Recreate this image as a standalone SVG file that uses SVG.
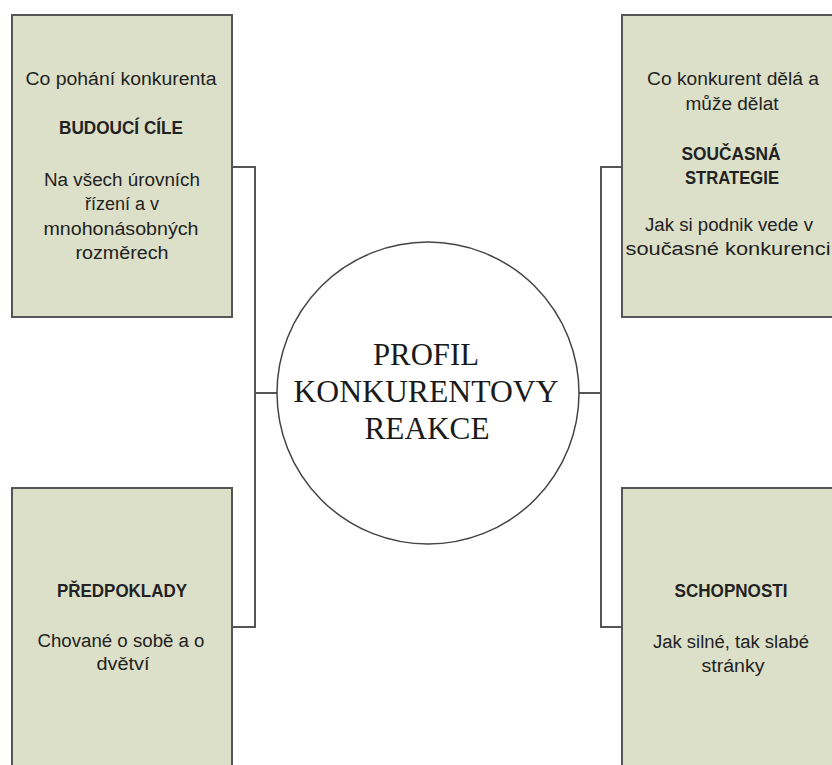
<svg xmlns="http://www.w3.org/2000/svg" width="832" height="765" viewBox="0 0 832 765">
<style>
.box{fill:#dce0c9;stroke:#555;stroke-width:2}
.t{font-family:"Liberation Sans",Arial,sans-serif;font-size:18px;fill:#222;text-anchor:middle}
.b{font-weight:bold}
.c{font-family:"Liberation Serif","Times New Roman",serif;font-size:31px;fill:#1a1a1a;text-anchor:middle}
.ln{fill:none;stroke:#555;stroke-width:2}
</style>
<rect width="832" height="765" fill="#fff"/>
<g id="connectors">
<path class="ln" d="M232,167H255V627H232M255,393H277"/>
<path class="ln" d="M622,167H601V627H622M601,393H579"/>
</g>
<g id="center">
<circle cx="428" cy="393" r="151" fill="#fff" stroke="#444" stroke-width="1.5"/>
<text class="c" x="426" y="365" textLength="106" lengthAdjust="spacingAndGlyphs">PROFIL</text>
<text class="c" x="426" y="402" textLength="265" lengthAdjust="spacingAndGlyphs">KONKURENTOVY</text>
<text class="c" x="427" y="439" textLength="125" lengthAdjust="spacingAndGlyphs">REAKCE</text>
</g>
<g id="goals">
<rect class="box" x="12" y="15" width="220" height="302"/>
<text class="t" x="121" y="85" textLength="191" lengthAdjust="spacingAndGlyphs">Co pohání konkurenta</text>
<text class="t b" x="121" y="134" textLength="124" lengthAdjust="spacingAndGlyphs">BUDOUCÍ CÍLE</text>
<text class="t" x="122" y="186" textLength="156" lengthAdjust="spacingAndGlyphs">Na všech úrovních</text>
<text class="t" x="122" y="210" textLength="74" lengthAdjust="spacingAndGlyphs">řízení a v</text>
<text class="t" x="121" y="235" textLength="155" lengthAdjust="spacingAndGlyphs">mnohonásobných</text>
<text class="t" x="122" y="259" textLength="93" lengthAdjust="spacingAndGlyphs">rozměrech</text>
</g>
<g id="strategy">
<rect class="box" x="622" y="15" width="222" height="302"/>
<text class="t" x="733" y="85" textLength="172" lengthAdjust="spacingAndGlyphs">Co konkurent dělá a</text>
<text class="t" x="732" y="110" textLength="93" lengthAdjust="spacingAndGlyphs">může dělat</text>
<text class="t b" x="731" y="160" textLength="99" lengthAdjust="spacingAndGlyphs">SOUČASNÁ</text>
<text class="t b" x="732" y="184" textLength="94" lengthAdjust="spacingAndGlyphs">STRATEGIE</text>
<text class="t" x="729" y="231" textLength="168" lengthAdjust="spacingAndGlyphs">Jak si podnik vede v</text>
<text class="t" x="728" y="255" textLength="205" lengthAdjust="spacingAndGlyphs">současné konkurenci</text>
</g>
<g id="assumptions">
<rect class="box" x="12" y="488" width="220" height="300"/>
<text class="t b" x="122" y="597" textLength="130" lengthAdjust="spacingAndGlyphs">PŘEDPOKLADY</text>
<text class="t" x="121" y="647" textLength="167" lengthAdjust="spacingAndGlyphs">Chované o sobě a o</text>
<text class="t" x="123" y="670" textLength="53" lengthAdjust="spacingAndGlyphs">dvětví</text>
</g>
<g id="capabilities">
<rect class="box" x="622" y="488" width="222" height="300"/>
<text class="t b" x="731" y="597" textLength="113" lengthAdjust="spacingAndGlyphs">SCHOPNOSTI</text>
<text class="t" x="731" y="648" textLength="156" lengthAdjust="spacingAndGlyphs">Jak silné, tak slabé</text>
<text class="t" x="733" y="672" textLength="63" lengthAdjust="spacingAndGlyphs">stránky</text>
</g>
</svg>
